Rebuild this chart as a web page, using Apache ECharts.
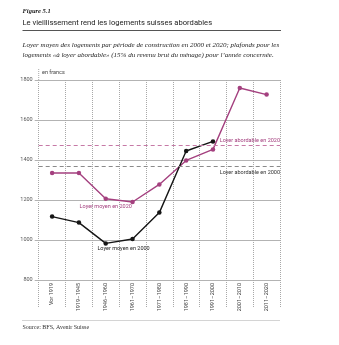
<!DOCTYPE html>
<html>
<head>
<meta charset="utf-8">
<script src="https://cdn.jsdelivr.net/npm/echarts@6/dist/echarts.min.js"></script>
<style>
  html, body { margin: 0; padding: 0; background: #fff; }
  #chart { width: 339px; height: 345px; }
</style>
</head>
<body>
<div id="chart"></div>
<script>
// Construction periods
const periods = ['Vor 1919', '1919–1945', '1946–1960', '1961–1970', '1971–1980',
                 '1981–1990', '1991–2000', '2001–2010', '2011–2020'];
// Average rent (CHF) by construction period
const rent2020 = [1335, 1335, 1206, 1190, 1278, 1398, 1453, 1760, 1727];
const rent2000 = [1117, 1087, 983, 1005, 1137, 1445, 1493, null, null];
// Affordable-rent ceilings (15% of gross household income)
const affordable2020 = 1472;
const affordable2000 = 1367;
// Value axis
const yMin = 800, yMax = 1800, yStep = 200;

const PINK = '#a4407f';
const PINK_DASH = '#c679a6';
const BLACK = '#161616';
const GRID = '#b3b3b3';
const SERIF = '"Liberation Serif", "DejaVu Serif", serif';
const SANS = 'Roboto, "Liberation Sans", sans-serif';

const chart = echarts.init(document.getElementById('chart'), null, { renderer: 'canvas' });

chart.setOption({
  animation: false,
  backgroundColor: '#fff',
  grid: { left: 38.7, right: 59, top: 80, bottom: 65, containLabel: false },
  xAxis: {
    type: 'category',
    data: periods,
    boundaryGap: true,
    axisLine: { show: false },
    axisTick: { show: true, length: 28, lineStyle: { color: '#a8a8a8', type: 'dotted', width: 1 } },
    splitLine: { show: true, lineStyle: { color: '#a8a8a8', type: 'dotted', width: 1 } },
    axisLabel: {
      rotate: 90, margin: 3, fontSize: 5.5, color: '#444', fontFamily: SANS, interval: 0
    }
  },
  yAxis: {
    type: 'value',
    min: yMin, max: yMax, interval: yStep,
    axisLine: { show: false },
    axisTick: { show: true, length: 4, lineStyle: { color: GRID, width: 1 } },
    splitLine: { show: true, lineStyle: { color: GRID, width: 1 } },
    axisLabel: { fontSize: 5.5, color: '#555', margin: 6, fontFamily: SANS,
                 formatter: (v) => String(v) }
  },
  series: [
    {
      name: 'Loyer moyen en 2020',
      type: 'line',
      data: rent2020.map((v, i) => i === 2 ? {
        value: v,
        label: { show: true, position: 'bottom', distance: 3, formatter: 'Loyer moyen en 2020',
                 color: PINK, fontSize: 5.5, fontFamily: SANS }
      } : v),
      symbol: 'circle', symbolSize: 4.5,
      lineStyle: { color: PINK, width: 1.4 },
      itemStyle: { color: PINK },
      z: 3,
      markLine: {
        silent: true, symbol: 'none',
        data: [
          { yAxis: affordable2020,
            lineStyle: { color: PINK_DASH, type: [4, 3], width: 1 },
            label: { show: true, position: 'insideEndTop', distance: [0, 2],
                     formatter: 'Loyer abordable en 2020', color: PINK, fontSize: 5.5, fontFamily: SANS } },
          { yAxis: affordable2000,
            lineStyle: { color: '#8a8a8a', type: [4, 3], width: 1 },
            label: { show: true, position: 'insideEndBottom', distance: [0, 3],
                     formatter: 'Loyer abordable en 2000', color: '#333', fontSize: 5.5, fontFamily: SANS } }
        ]
      }
    },
    {
      name: 'Loyer moyen en 2000',
      type: 'line',
      data: rent2000.map((v, i) => i === 3 ? {
        value: v,
        label: { show: true, position: 'bottom', distance: 4, offset: [-9, 0],
                 formatter: 'Loyer moyen en 2000', color: '#222', fontSize: 5.5, fontFamily: SANS }
      } : v),
      symbol: 'circle', symbolSize: 4.5,
      lineStyle: { color: BLACK, width: 1.4 },
      itemStyle: { color: BLACK },
      z: 4
    }
  ],
  graphic: [
    { type: 'text', left: 22.5, top: 8,
      style: { text: 'Figure 5.1', font: 'italic bold 6.5px ' + SERIF, fill: '#222' } },
    { type: 'text', left: 22.5, top: 19.5,
      style: { text: 'Le vieillissement rend les logements suisses abordables', font: '7.6px ' + SANS, fill: '#222' } },
    { type: 'line', shape: { x1: 22.5, y1: 30.5, x2: 281, y2: 30.5 },
      style: { stroke: '#555', lineWidth: 1 } },
    { type: 'text', left: 22.5, top: 40,
      style: {
        text: 'Loyer moyen des logements par période de construction en 2000 et 2020; plafonds pour les\nlogements «à loyer abordable» (15% du revenu brut du ménage) pour l’année concernée.',
        font: 'italic 7px ' + SERIF, fill: '#222', lineHeight: 10
      } },
    { type: 'line', shape: { x1: 38.7, y1: 69, x2: 38.7, y2: 80 },
      style: { stroke: '#a8a8a8', lineWidth: 1, lineDash: [1, 1] } },
    { type: 'text', left: 42, top: 70,
      style: { text: 'en francs', font: '5.5px ' + SANS, fill: '#444' } },
    { type: 'line', shape: { x1: 22.5, y1: 320.5, x2: 280, y2: 320.5 },
      style: { stroke: '#a8a8a8', lineWidth: 1, lineDash: [1, 1] } },
    { type: 'text', left: 22.5, top: 324,
      style: { text: 'Source: BFS, Avenir Suisse', font: '6px ' + SERIF, fill: '#333' } }
  ]
});
</script>
</body>
</html>
